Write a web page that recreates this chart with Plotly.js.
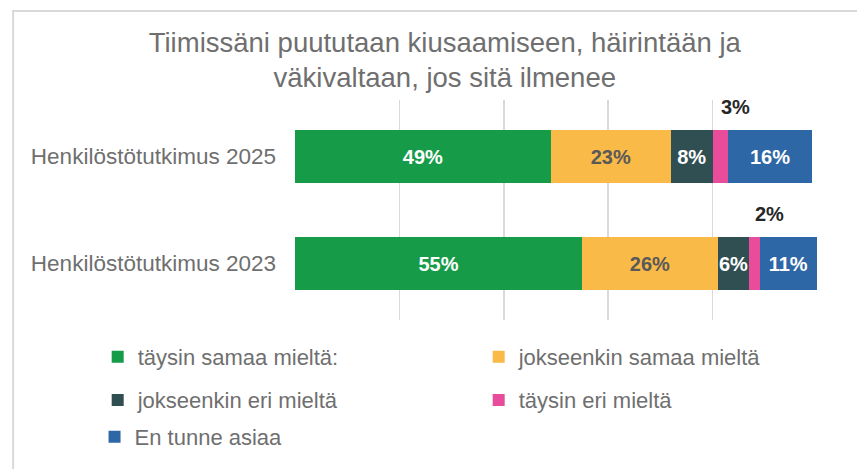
<!DOCTYPE html>
<html>
<head>
<meta charset="utf-8">
<script src="https://cdn.plot.ly/plotly-3.0.1.min.js"></script>
<style>
html,body{margin:0;padding:0;background:#fff;}
#chart{width:857px;height:469px;}
</style>
</head>
<body>
<div id="chart"></div>
<script>
// ---- data ----
var categories = ['Henkilöstötutkimus 2025', 'Henkilöstötutkimus 2023'];
var seriesNames = ['täysin samaa mieltä:', 'jokseenkin samaa mieltä', 'jokseenkin eri mieltä', 'täysin eri mieltä', 'En tunne asiaa'];
var taysinSamaa = [49, 55];
var jokseenkinSamaa = [23, 26];
var jokseenkinEri = [8, 6];
var taysinEri = [3, 2];
var enTunne = [16, 11];
var titleText = 'Tiimissäni puututaan kiusaamiseen, häirintään ja<br>väkivaltaan, jos sitä ilmenee';

// ---- styles ----
var colors = ['#169B48', '#F9BA48', '#2F4F52', '#E84C9A', '#2E67A6'];
var labelColors = ['#ffffff', '#595959', '#ffffff', '#ffffff', '#ffffff'];
var legendIds = ['legend', 'legend', 'legend2', 'legend2', 'legend3'];
var FONT = 'Liberation Sans, Arial, sans-serif';
var GREY = '#6f6f6f';

var values = [taysinSamaa, jokseenkinSamaa, jokseenkinEri, taysinEri, enTunne];

var traces = values.map(function (v, i) {
  var isPink = (i === 3);
  return {
    type: 'bar',
    orientation: 'h',
    name: seriesNames[i],
    y: categories,
    x: v,
    marker: {color: colors[i], line: {width: 0}},
    text: v.map(function (d) { return d + '%'; }),
    texttemplate: '%{text}',
    textposition: isPink ? 'none' : 'inside',
    insidetextanchor: 'middle',
    textangle: 0,
    textfont: {family: FONT, size: 20, color: labelColors[i], weight: 'bold'},
    hoverinfo: 'name+x',
    legend: legendIds[i]
  };
});

// labels for the thin pink segments, placed above the bars
var annotations = categories.map(function (c, j) {
  var before = taysinSamaa[j] + jokseenkinSamaa[j] + jokseenkinEri[j];
  return {
    xref: 'x', yref: 'y',
    x: before + taysinEri[j] / 2,
    y: c,
    text: '<b>' + taysinEri[j] + '%</b>',
    showarrow: false,
    xshift: 15,
    yshift: 50,
    font: {family: FONT, size: 20, color: '#262626'}
  };
});

var legendCommon = function (y, xoff) {
  return {
    orientation: 'h',
    x: -0.378 + xoff, xanchor: 'left',
    y: y, yanchor: 'middle',
    entrywidth: 336, entrywidthmode: 'pixels',
    font: {family: FONT, size: 22, color: GREY},
    bgcolor: 'rgba(0,0,0,0)',
    itemclick: false, itemdoubleclick: false,
    traceorder: 'normal'
  };
};

var layout = {
  width: 857, height: 469,
  margin: {l: 295, r: 40, t: 100, b: 149, autoexpand: false},
  paper_bgcolor: '#ffffff',
  plot_bgcolor: '#ffffff',
  barmode: 'stack',
  bargap: 0.5,
  showlegend: true,
  uniformtext: {mode: 'show', minsize: 20},
  title: {
    text: titleText,
    font: {family: FONT, size: 27.5, color: GREY},
    x: 0.519, xanchor: 'center', xref: 'container',
    y: 0.89, yanchor: 'top', yref: 'container'
  },
  xaxis: {
    range: [0, 100],
    dtick: 20,
    tick0: 0,
    showgrid: true,
    gridcolor: '#d9d9d9',
    gridwidth: 1.5,
    zeroline: false,
    showticklabels: false,
    showline: false,
    automargin: false,
    fixedrange: true
  },
  yaxis: {
    type: 'category',
    categoryorder: 'array',
    categoryarray: categories,
    autorange: false,
    range: [categories.length - 0.472, -0.528],
    showgrid: false,
    zeroline: false,
    showline: false,
    ticks: '',
    ticklabelstandoff: 18,
    tickfont: {family: FONT, size: 22.5, color: GREY},
    automargin: false,
    fixedrange: true
  },
  legend: legendCommon(-0.168, 0),
  legend2: legendCommon(-0.364, 0),
  legend3: legendCommon(-0.532, -0.006),
  annotations: annotations,
  shapes: [{
    type: 'rect', xref: 'paper', yref: 'paper',
    x0: -0.540, x1: 1.2, y0: -0.8, y1: 1.4045,
    line: {color: '#d9d9d9', width: 2},
    fillcolor: 'rgba(0,0,0,0)',
    layer: 'above'
  }]
};

Plotly.newPlot('chart', traces, layout, {displayModeBar: false, staticPlot: true});
</script>
</body>
</html>
